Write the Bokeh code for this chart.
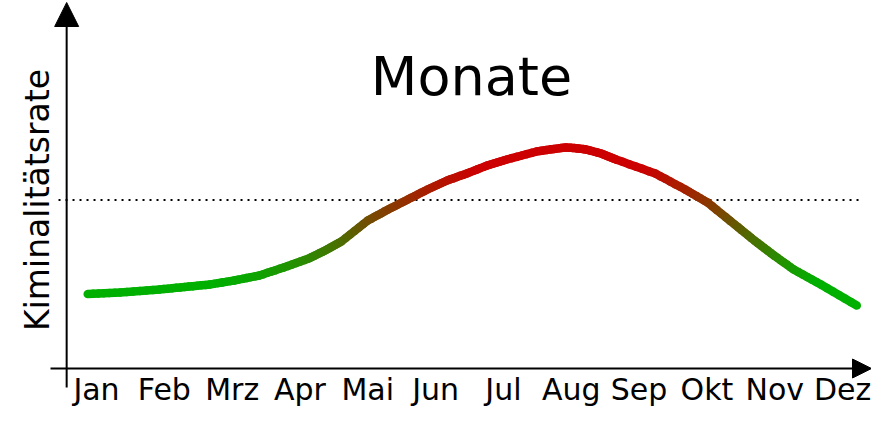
import numpy as np
from bokeh.plotting import figure
from bokeh.models import Arrow, NormalHead, Label, Range1d
from bokeh.embed import file_html
from bokeh.resources import INLINE
from bokeh.core.properties import value

# ---- data ----
months = ["Jan", "Feb", "Mrz", "Apr", "Mai", "Jun", "Jul", "Aug", "Sep", "Okt", "Nov", "Dez"]
month_pos = list(range(12))
curve_month = [-0.13, 0.35, 0.93, 1.30, 1.67, 2.03, 2.40, 2.76, 3.13, 3.37, 3.61, 4.00,
               4.30, 4.59, 4.88, 5.17, 5.46, 5.76, 6.05, 6.49, 6.71, 6.92, 7.07, 7.22,
               7.44, 7.66, 8.24, 8.68, 9.01, 9.41, 9.70, 9.99, 10.28, 10.68, 11.21]
curve_rate = [74.5, 76, 79, 81.5, 84, 88, 93, 101, 110, 118, 127, 148,
              159, 169, 179, 188, 195, 203, 209, 217, 219.3, 221, 220.3, 219,
              215, 209, 195, 179, 166, 144, 128, 113, 99, 84, 63]
threshold = 168.5
title_text = "Monate"
ylabel_text = "Kiminalitätsrate"

# ---- styling ----
GREEN = np.array([0, 176, 0])
RED = np.array([204, 0, 0])
LOW, HIGH = 85.0, 200.0

X0, X1 = -1.4155, 11.427
Y0, Y1 = -41.0, 368.0

p = figure(width=871, height=409, x_range=Range1d(X0, X1), y_range=Range1d(Y0, Y1),
           x_axis_type=None, y_axis_type=None, title=None,
           output_backend="svg", toolbar_location=None, min_border=0)
p.outline_line_color = None
p.background_fill_color = "white"
p.border_fill_color = "white"

# dotted threshold line
p.segment(x0=[-0.56], y0=[threshold], x1=[11.24], y1=[threshold],
          line_color="black", line_width=1.8, line_dash="2 5")

# gradient curve: segments between the read points, coloured by rate
xs0, ys0, xs1, ys1, cols = [], [], [], [], []
sub = 6
for i in range(len(curve_month) - 1):
    xa, xb = curve_month[i], curve_month[i + 1]
    ya, yb = curve_rate[i], curve_rate[i + 1]
    for k in range(sub):
        f0, f1 = k / sub, (k + 1) / sub
        x0_, x1_ = xa + (xb - xa) * f0, xa + (xb - xa) * f1
        y0_, y1_ = ya + (yb - ya) * f0, ya + (yb - ya) * f1
        t = np.clip(((y0_ + y1_) / 2 - LOW) / (HIGH - LOW), 0, 1)
        c = (GREEN * (1 - t) + RED * t).astype(int)
        xs0.append(x0_); ys0.append(y0_); xs1.append(x1_); ys1.append(y1_)
        cols.append("#%02x%02x%02x" % tuple(c))
p.segment(x0=xs0, y0=ys0, x1=xs1, y1=ys1, line_color=cols, line_width=8.5, line_cap="round")

# axes as arrows
yaxis_x = -0.44
p.add_layout(Arrow(end=NormalHead(size=24, fill_color="black", line_color="black", line_width=1),
                   x_start=yaxis_x, y_start=-19, x_end=yaxis_x, y_end=366,
                   line_color="black", line_width=2))
p.add_layout(Arrow(end=NormalHead(size=19, fill_color="black", line_color="black", line_width=1),
                   x_start=-0.678, y_start=0, x_end=X1, y_end=0,
                   line_color="black", line_width=2))

# month labels
p.text(x=month_pos, y=[-21.3] * 12, text=months, text_align="center", text_baseline="alphabetic",
       text_font=value("DejaVu Sans"), text_font_size="30px", text_color="black")

# title
p.add_layout(Label(x=5.529, y=292, text=title_text, text_align="center", text_baseline="alphabetic",
                   text_font="DejaVu Sans", text_font_size="54px", text_color="black"))
# y label
p.add_layout(Label(x=-0.868, y=threshold, text=ylabel_text, angle=np.pi / 2,
                   text_align="center", text_baseline="alphabetic",
                   text_font="DejaVu Sans", text_font_size="33px", text_color="black"))

open("out.html", "w").write(file_html(p, INLINE))
